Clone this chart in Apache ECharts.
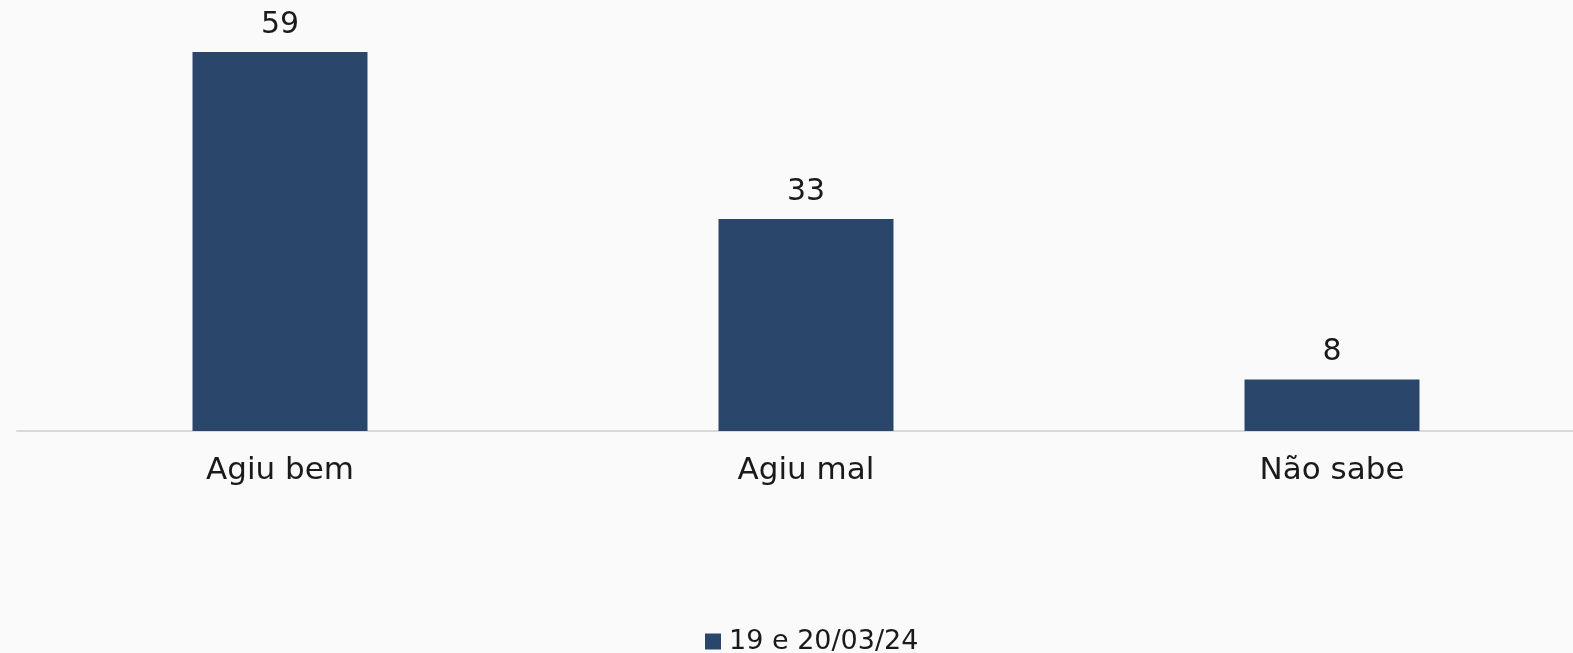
<!DOCTYPE html>
<html><head><meta charset="utf-8">
<script src="https://cdn.jsdelivr.net/npm/echarts@6/dist/echarts.min.js"></script>
<style>html,body{margin:0;padding:0;background:#fafafa}#c{width:1573px;height:653px}</style>
</head><body><div id="c"></div>
<script>
const categories = ['Agiu bem', 'Agiu mal', 'Não sabe'];
const seriesName = '19 e 20/03/24';
const values = [59, 33, 8];

const chart = echarts.init(document.getElementById('c'));
chart.setOption({
  backgroundColor: '#fafafa',
  textStyle: { fontFamily: '"DejaVu Sans", sans-serif' },
  grid: { left: 17, top: 0, width: 1578, bottom: 222, containLabel: false, outerBoundsMode: 'none' },
  legend: {
    top: 623, left: 700, itemWidth: 16, itemHeight: 16, itemGap: 10,
    icon: 'rect',
    textStyle: { fontSize: 27, color: '#1a1a1a', fontFamily: '"DejaVu Sans", sans-serif', padding: [0, 0, 0, 3] },
    data: [seriesName]
  },
  xAxis: {
    type: 'category', data: categories,
    axisLine: { lineStyle: { color: '#d9d9d9', width: 2 } },
    axisTick: { show: false },
    axisLabel: { fontSize: 31, color: '#1a1a1a', margin: 24 }
  },
  yAxis: { type: 'value', min: 0, max: 67.1, show: false, splitLine: { show: false } },
  series: [{
    name: seriesName, type: 'bar', data: values, barWidth: 175,
    itemStyle: { color: '#2a466b' },
    label: { show: true, position: 'top', distance: 12, fontSize: 30, color: '#1a1a1a' }
  }]
});
</script></body></html>
